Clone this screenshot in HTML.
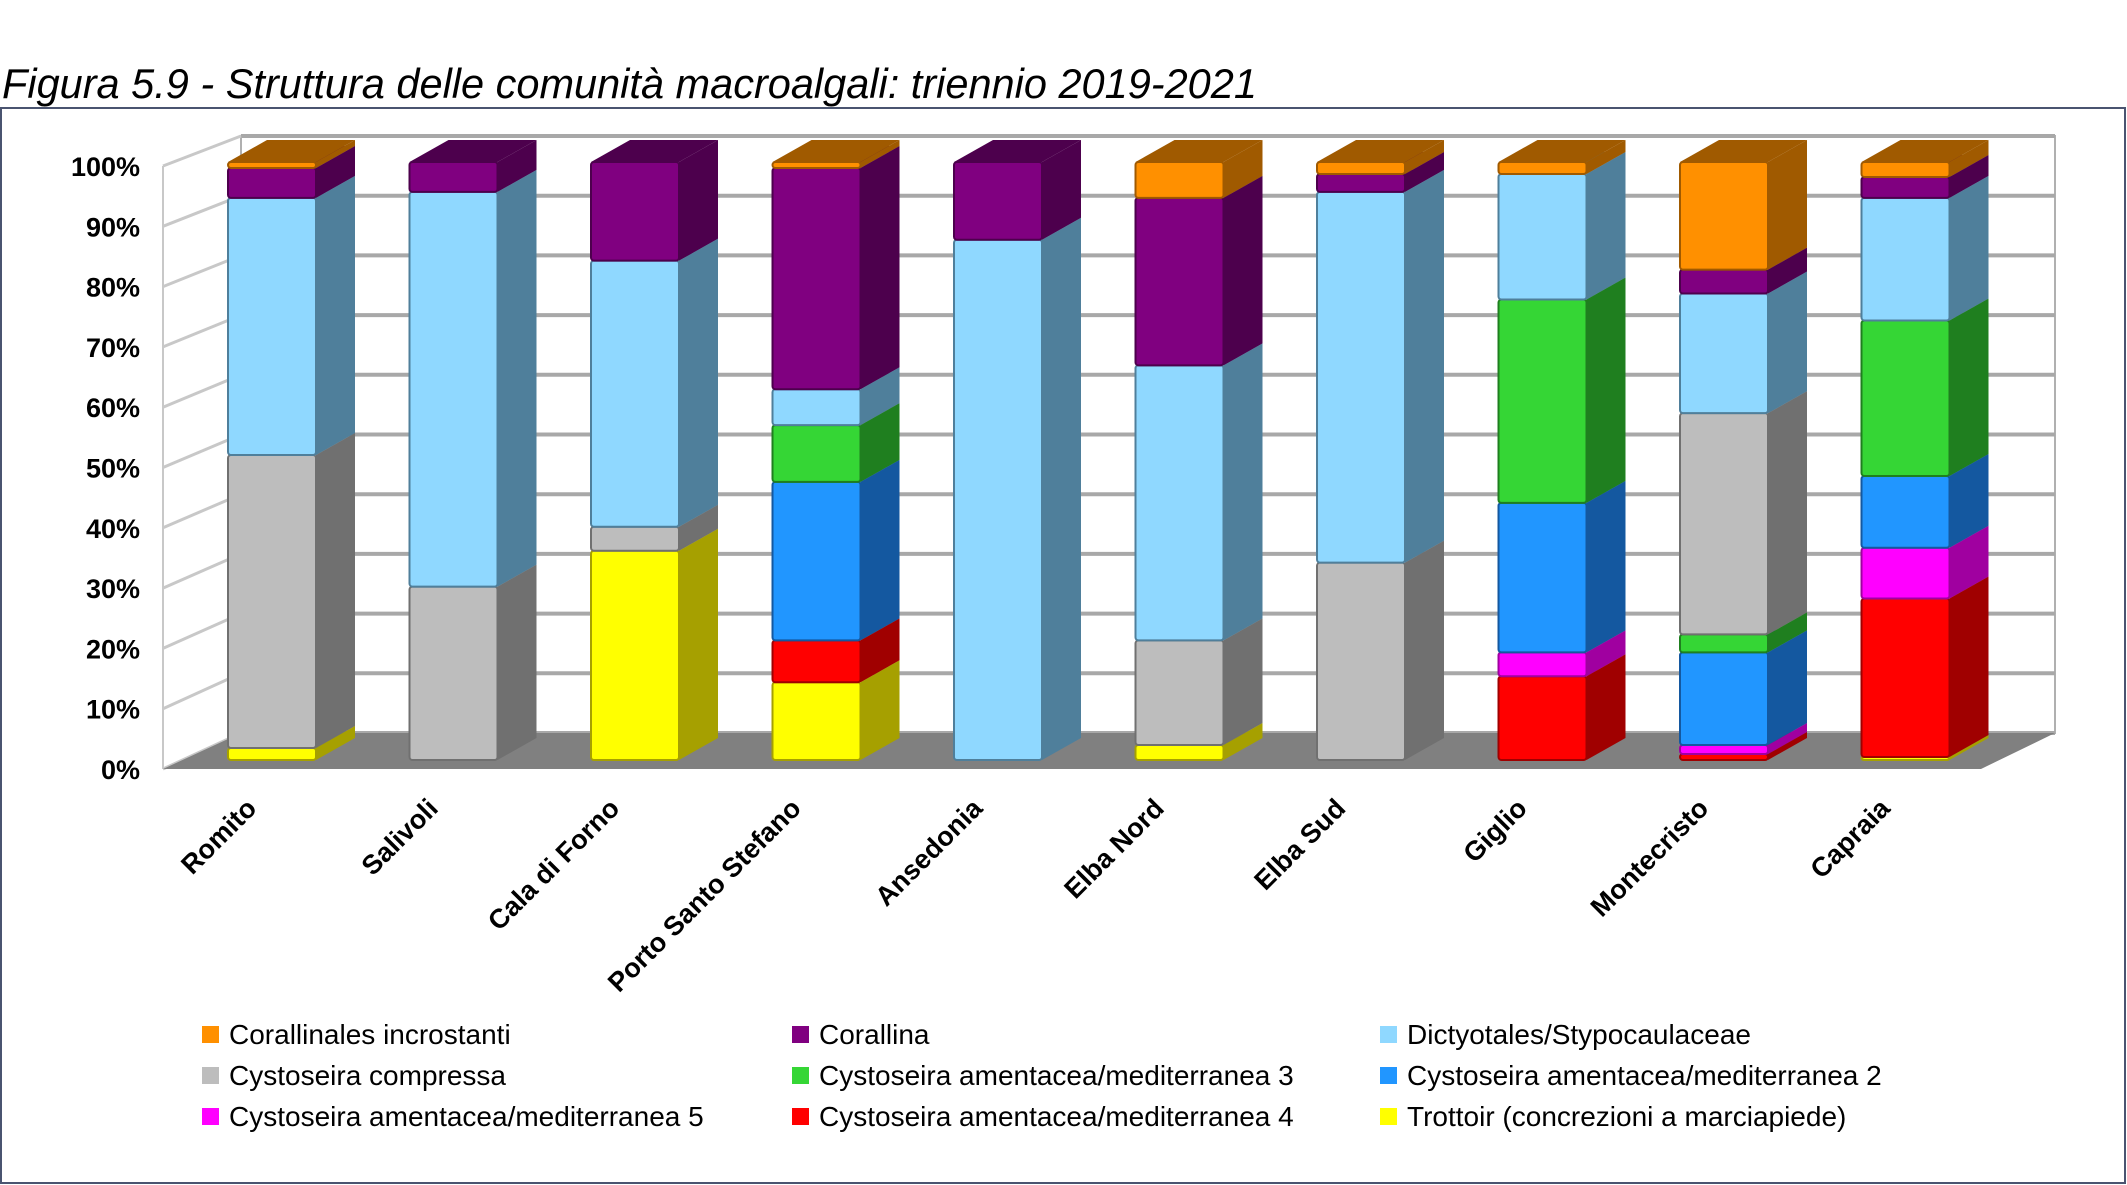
<!DOCTYPE html>
<html><head><meta charset="utf-8"><style>
body{margin:0;background:#fff;width:2127px;height:1185px;overflow:hidden}
svg{display:block;font-family:"Liberation Sans",Arial,sans-serif}
</style></head><body>
<svg id="c" width="2127" height="1185" viewBox="0 0 2127 1185">
<text x="2" y="98" font-size="41.5" font-style="italic" fill="#000">Figura 5.9 - Struttura delle comunità macroalgali: triennio 2019-2021</text>
<rect x="1" y="108" width="2124" height="1075" fill="none" stroke="#4a5470" stroke-width="2"/>
<g id="walls"></g><g id="bars"></g><g id="xl"></g><g id="yl"></g><g id="legend"></g>
</svg>
<script>
const categories=["Romito","Salivoli","Cala di Forno","Porto Santo Stefano","Ansedonia","Elba Nord","Elba Sud","Giglio","Montecristo","Capraia"];
const seriesNames=["Trottoir (concrezioni a marciapiede)","Cystoseira amentacea/mediterranea 4","Cystoseira amentacea/mediterranea 5","Cystoseira amentacea/mediterranea 2","Cystoseira amentacea/mediterranea 3","Cystoseira compressa","Dictyotales/Stypocaulaceae","Corallina","Corallinales incrostanti"];
const trottoir=[2,0,35,13,0,2.5,0,0,0,0.5];
const ca4=[0,0,0,7,0,0,0,14,1,26.5];
const ca5=[0,0,0,0,0,0,0,4,1.5,8.5];
const ca2=[0,0,0,26.5,0,0,0,25,15.5,12];
const ca3=[0,0,0,9.5,0,0,0,34,3,26];
const compressa=[49,29,4,0,0,17.5,33,0,37,0];
const dictyotales=[43,66,44.5,6,87,46,62,21,20,20.5];
const corallina=[5,5,16.5,37,13,28,3,0,4,3.5];
const incrostanti=[1,0,0,1,0,6,2,2,18,2.5];
const yTicks=["0%","10%","20%","30%","40%","50%","60%","70%","80%","90%","100%"];
const series=[trottoir,ca4,ca5,ca2,ca3,compressa,dictyotales,corallina,incrostanti];
const front=["#ffff00","#ff0000","#ff00ff","#2196ff","#35d635","#bdbdbd","#8fd8ff","#800080","#ff9000"];
const side=["#a6a000","#a00000","#a000a0","#1458a0","#1f7f1f","#707070","#4f7f9b","#4d004d","#a05a00"];
const NS="http://www.w3.org/2000/svg";
function mk(t,a,p){const e=document.createElementNS(NS,t);for(const k in a)e.setAttribute(k,a[k]);p.appendChild(e);return e;}
const yBar=v=>760-v*5.98, yBack=v=>733-v*5.97, yFront=v=>769-v*6.03;
const xBar=i=>228+i*181.5;
const W=document.getElementById('walls');
let bw=mk('rect',{x:241,y:136,width:1814,height:597,fill:'#fff',stroke:'#b0b0b0','stroke-width':2},W);


for(let k=0;k<yTicks.length;k++){const v=k*10;
 let g=mk('line',{x1:241,x2:2055,y1:yBack(v),y2:yBack(v),stroke:'#a8a8a8','stroke-width':4},W);
 
 
 let d=mk('line',{x1:163,x2:241,y1:yFront(v),y2:yBack(v),stroke:'#c8c8c8','stroke-width':3},W);
 
 
 let t=mk('text',{x:140,y:yFront(v)+10,'text-anchor':'end','font-size':27,'font-weight':'bold'},document.getElementById('yl'));
 t.textContent=yTicks[k];
 
 }
mk('line',{x1:163,x2:163,y1:yFront(0),y2:yFront(100),stroke:'#c8c8c8','stroke-width':2},W);
let fl=mk('polygon',{points:`163,769 1981,769 2055,733 241,733`,fill:'#808080'},W);


const B=document.getElementById('bars');const bwid=88,dx=39,dy=22;
categories.forEach((c,i)=>{let acc=0;const x=xBar(i);
 series.forEach((s,j)=>{const v=s[i];if(v<=0){return;}
  const y0=yBar(acc),y1=yBar(acc+v);acc+=v;
  const g=mk('g',{},B);
  
  
  mk('polygon',{points:`${x+bwid},${y0} ${x+bwid+dx},${y0-dy} ${x+bwid+dx},${y1-dy} ${x+bwid},${y1}`,fill:side[j]},g);
  mk('polygon',{points:`${x},${y1} ${x+dx},${y1-dy} ${x+bwid+dx},${y1-dy} ${x+bwid},${y1}`,fill:side[j]},g);
  mk('rect',{x:x,y:y1,width:bwid,height:y0-y1,fill:front[j],stroke:side[j],'stroke-width':2,rx:3},g);
 });
 const t=mk('text',{x:0,y:0,'text-anchor':'end','font-size':27,'font-weight':'bold',transform:`translate(${x+30},${810}) rotate(-45)`},document.getElementById('xl'));
 t.textContent=c;
 
 
});
const legOrder=[8,7,6,5,4,3,2,1,0];const lx=[202,792,1380],ly=[1044,1085,1126];
const L=document.getElementById('legend');
legOrder.forEach((j,k)=>{const x=lx[k%3],y=ly[Math.floor(k/3)];
 const g=mk('g',{},L);
 
 
 mk('rect',{x:x,y:y-18,width:17,height:17,fill:front[j]},g);
 const t=mk('text',{x:x+27,y:y,'font-size':28},g);t.textContent=seriesNames[j];});
</script>
</body></html>
